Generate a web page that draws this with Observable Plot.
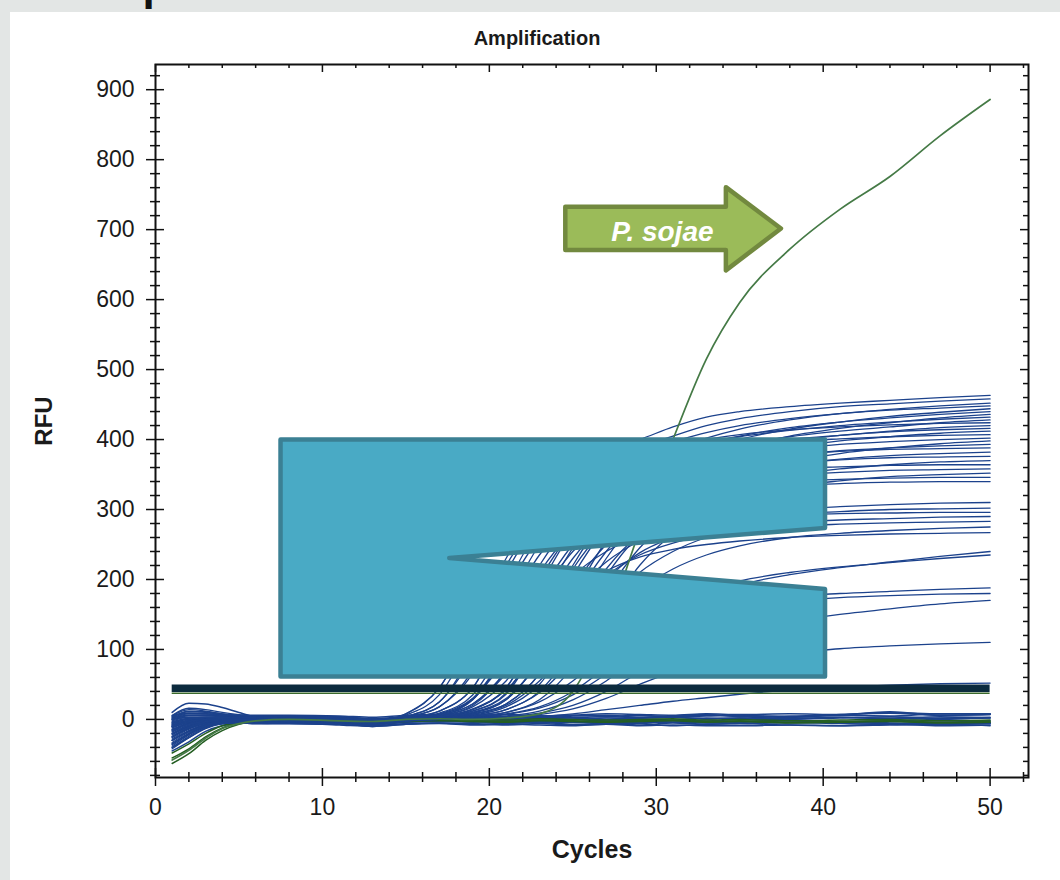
<!DOCTYPE html>
<html><head><meta charset="utf-8">
<script src="https://cdn.jsdelivr.net/npm/d3@7"></script>
<script src="https://cdn.jsdelivr.net/npm/@observablehq/plot@0.6"></script>
<style>
html,body{margin:0;padding:0;background:#e3e6e5;width:1060px;height:880px;overflow:hidden;}
#panel{position:absolute;left:10px;top:12px;right:0;bottom:0;background:#fff;}
#chart{position:absolute;left:0;top:0;}
</style></head><body>
<div id="panel"></div><div id="chart"></div>
<script>
// ---------- data ----------
const CYCLES = [1,2,3,4,5,6,8,11,13,15,17,19,21,23,25,27,29,31,33,35,38,41,44,47,50];

// amplifying wells (navy)
const AMP_CURVES = [
  [-12,-4,0,1,1,2,1, 0,-2,8,45,135,230,305,355,385,400,418,432,440,447,452,456,460,463],
  [-25,-12,-5,-3,-3,-4,-4, -5,-6,4,25,90,190,275,330,365,388,405,420,430,440,447,451,455,458],
  [5,14,12,8,5,4,3, 2,-1,1,6,28,95,190,270,325,360,385,402,415,428,437,443,448,452],
  [-35,-20,-9,-5,-4,-3,-3, -4,-6,6,35,115,210,285,335,365,383,397,410,420,430,437,442,445,448],
  [-5,0,1,1,1,1,0, -1,-3,0,4,14,45,130,220,290,335,365,385,400,415,425,433,439,444],
  [-18,-8,-3,-2,-2,-2,-2, -3,-4,2,12,45,135,220,285,330,360,380,395,405,417,425,431,436,440],
  [0,6,6,5,4,3,3, 1,-1,0,3,10,28,85,175,255,310,345,370,388,405,416,424,431,436],
  [-28,-14,-6,-4,-3,-3,-3, -4,-6,3,18,70,165,250,310,345,368,383,395,404,413,420,425,429,432],
  [-8,-2,0,1,1,1,0, -2,-4,0,5,20,70,160,245,300,338,362,380,392,404,412,418,424,428],
  [-40,-24,-11,-6,-5,-5,-5, -6,-7,8,45,130,220,290,335,360,377,390,400,407,414,418,421,423,424],
  [2,9,8,6,5,4,4, 3,0,-1,4,12,38,115,205,275,320,350,370,384,397,406,412,417,420],
  [-15,-6,-2,-1,-1,-1,-2, -3,-4,1,9,35,110,200,270,315,345,365,380,390,400,406,411,414,416],
  [-3,2,3,2,2,2,1, 0,-3,-1,2,8,22,65,150,230,290,330,355,372,388,398,404,409,412],
  [-30,-16,-7,-4,-3,-4,-4, -5,-7,4,25,95,185,260,310,340,360,373,383,390,397,401,404,406,407],
  [-10,-3,0,1,1,0,0, -1,-3,0,7,28,95,180,250,300,330,350,364,375,386,393,397,400,402],
  [6,16,14,10,7,5,5, 4,1,-1,2,6,18,50,120,205,265,305,332,350,368,380,388,394,398],
  [-22,-10,-4,-2,-2,-2,-3, -4,-5,0,4,15,45,130,215,275,315,338,355,366,377,384,388,391,393],
  [-33,-18,-8,-5,-4,-5,-5, -6,-8,2,12,45,130,210,270,310,335,350,362,370,378,383,386,387,388],
  [-6,-1,1,2,2,2,1, 0,-2,-1,3,9,28,85,170,240,290,320,340,353,365,372,377,380,382],
  [-14,-5,-1,0,0,-1,-1, -2,-4,0,6,22,70,155,230,280,312,333,347,357,366,371,374,375,376],
  [1,8,8,6,5,4,3, 2,-1,-1,2,5,14,40,100,180,245,288,315,333,348,358,364,368,370],
  [-38,-22,-10,-6,-5,-6,-6, -7,-9,3,18,65,155,235,285,315,333,343,350,355,359,361,363,364,364],
  [-4,1,2,2,2,1,1, 0,-2,-1,4,12,36,110,190,250,290,315,330,340,348,353,356,357,358],
  [-20,-9,-3,-1,-1,-1,-2, -3,-5,-1,1,4,10,28,75,150,220,265,295,315,332,341,347,350,352],
  [-26,-12,-5,-3,-3,-3,-4, -5,-6,0,7,30,95,175,240,280,305,320,330,336,341,343,345,346,346],
  [-9,-3,0,1,1,1,0, -1,-3,-1,2,8,22,65,145,215,265,295,312,324,333,337,339,340,340],
  [-16,-6,-2,-1,-1,-1,-2, -3,-4,0,5,18,55,120,180,225,255,273,285,293,300,304,307,309,310],
  [3,11,10,7,5,5,4, 3,0,-1,3,10,30,80,145,200,238,260,275,285,293,297,300,301,302],
  [-30,-16,-7,-4,-3,-3,-4, -5,-6,1,8,30,85,150,205,240,262,275,283,288,292,294,295,296,296],
  [-7,-2,0,1,1,0,0, -1,-4,-1,2,7,20,55,110,165,210,240,260,272,281,285,287,289,290],
  [-21,-9,-4,-2,-2,-2,-2, -3,-5,0,4,14,42,100,160,205,235,252,263,270,276,279,281,282,283],
  [-1,5,5,4,3,3,2, 1,-1,-1,2,5,14,38,85,140,185,215,235,248,260,266,270,273,275],
  [-36,-20,-9,-5,-4,-4,-5, -6,-7,1,6,22,65,130,180,212,232,243,250,255,260,263,265,266,267],
  [-12,-4,-1,0,0,0,-1, -2,-5,-1,1,3,8,18,40,75,115,150,175,192,207,217,225,233,240],
  [-24,-11,-4,-2,-2,-2,-3, -4,-6,-2,1,4,10,25,55,95,135,165,185,198,210,218,224,230,235],
  [4,12,11,8,6,5,4, 2,-1,-1,1,3,7,16,35,65,100,130,150,163,175,180,183,186,188],
  [-17,-7,-3,-1,-1,-1,-2, -3,-5,-1,0,2,5,12,28,55,90,120,142,156,168,174,177,179,180],
  [-42,-26,-12,-6,-5,-6,-6, -7,-8,-3,0,2,4,9,20,40,68,95,115,128,140,150,158,165,170],
  [-2,3,3,3,2,2,1, 0,-3,-1,0,1,3,7,15,30,50,68,80,88,95,101,105,108,110],
  [-10,-3,0,1,0,0,-1, -2,-5,-1,0,1,2,4,8,14,20,26,31,36,42,46,49,51,52]
];

// non-amplifying wells (navy)
const FLAT_CURVES = [
  [10,23,22,17,10,4,3,2,-1,3,4,2,1,3,2,0,2,3,1,2,4,3,1,2,3],
  [-40,-26,-13,-6,-4,-5,-6,-7,-9,-6,-5,-7,-6,-4,-7,-6,-8,-5,-7,-6,-4,-6,-7,-5,-6],
  [-20,-10,-3,0,1,2,1,-1,-3,1,2,0,3,1,0,2,1,-1,2,1,0,2,4,1,2],
  [0,3,3,2,1,5,4,3,1,4,6,5,4,2,5,6,3,4,6,5,3,7,9,6,7],
  [-30,-17,-8,-6,-5,-6,-5,-8,-10,-7,-6,-8,-7,-8,-9,-7,-9,-8,-9,-9,-8,-9,-7,-9,-8],
  [5,9,8,7,6,6,6,5,3,6,7,6,7,5,6,8,7,6,8,7,8,7,10,8,8],
  [-10,-4,-2,-2,-1,-2,-3,-5,-6,-2,-1,-3,-2,-3,-3,-1,-2,-4,-1,-3,-1,-3,-2,0,-4],
  [-45,-32,-17,-9,-6,-4,-5,-6,-10,-7,-5,-6,-8,-6,-8,-7,-6,-9,-7,-6,-8,-9,-8,-7,-9],
  [-5,1,3,4,4,3,2,1,-1,3,4,3,4,5,3,4,6,4,5,6,4,6,11,6,7],
  [-25,-13,-6,-3,-3,-3,-3,-5,-7,-4,-3,-4,-3,-5,-4,-6,-4,-4,-5,-3,-5,-4,-6,-4,-5],
  [-15,-6,-2,0,1,1,1,-1,-3,1,2,1,0,1,2,0,2,3,1,2,1,3,2,4,2],
  [-35,-21,-10,-5,-3,-2,-3,-4,-7,-4,-2,-3,-5,-4,-3,-5,-4,-2,-4,-6,-4,-3,-5,-7,-6],
  [2,6,6,5,4,3,4,2,0,3,5,3,4,5,6,4,3,5,7,4,5,6,5,8,8],
  [-8,-2,-1,-1,-1,-1,-2,-3,-5,-2,-1,-2,-3,-2,-4,-3,-4,-2,-3,-4,-2,-5,-3,-4,-2]
];

// second-dye wells (green)
const GREEN_FLAT = [
  [-63,-49,-30,-16,-7,-3,-2,-4,-6,-3,-2,-3,-4,-2,-3,-4,-3,-2,-4,-3,-5,-4,-3,-5,-4],
  [-55,-42,-25,-12,-5,-1,0,-2,-3,0,1,0,-1,1,0,-1,0,1,-1,0,-2,-1,0,-2,-1],
  [-48,-35,-20,-9,-4,-2,-1,-3,-5,-1,0,-2,-3,-1,-2,-3,-2,-1,-3,-2,-4,-3,-2,-4,-3]
];
const P_SOJAE = [-58,-44,-27,-13,-6,-2,0,-2,-3,0,1,0,2,8,40,135,270,400,515,596,672,729,776,834,886];

const THRESHOLD_MAIN = 44.5;
const THRESHOLD_GREEN = 37.5;

const X_TICKS = d3.range(0, 53, 2);
const Y_TICKS = d3.range(-80, 921, 20);
const X_LABELS = [0,10,20,30,40,50];
const Y_LABELS = [0,100,200,300,400,500,600,700,800,900];

// annotation geometry (data units)
const CALLOUT = {x0: 7.52, x1: 40.14, y0: 60.7, y1: 399.3, tipX: 17.63, tipY: 230, mouthTop: 272.9, mouthBottom: 185.7};
const ARROW = {left: 24.58, headBase: 34.2, tip: 37.5, bodyTop: 732, bodyBottom: 670, headTop: 760, headBottom: 641, tipY: 701, textX: 30.4, textY: 683};
const ARROW_LABEL = "P. sojae";

// ---------- build ----------
const toRows = (curves, prefix) => curves.flatMap((vals, k) => vals.map((v, i) => ({id: prefix + k, x: CYCLES[i], y: v})));
const ampRows = toRows(AMP_CURVES, "a");
const flatRows = toRows(FLAT_CURVES, "f");
const greenRows = toRows(GREEN_FLAT, "g");
const sojaeRows = toRows([P_SOJAE], "s");

const W = 1060, H = 880, mL = 155, mR = 32, mT = 64, mB = 103;
const XDOM = [0, 52.3], YDOM = [-83, 936];
const kx = (W - mL - mR) / (XDOM[1] - XDOM[0]);
const ky = (H - mT - mB) / (YDOM[1] - YDOM[0]);
const majX = d => d % 10 === 0, majY = d => d % 100 === 0;
const NAVY = "#1c428c";
const FONT = "'Liberation Sans', Arial, Helvetica, sans-serif";

const plot = Plot.plot({
  width: W, height: H,
  marginLeft: mL, marginRight: mR, marginTop: mT, marginBottom: mB,
  x: {domain: XDOM},
  y: {domain: YDOM},
  style: {fontFamily: FONT, background: "transparent", overflow: "visible"},
  marks: [
    Plot.line(flatRows, {x: "x", y: "y", z: "id", stroke: NAVY, strokeWidth: 1.5, curve: "monotone-x"}),
    Plot.line(greenRows, {x: "x", y: "y", z: "id", stroke: "#245e22", strokeWidth: 1.5, curve: "monotone-x"}),
    Plot.line(ampRows, {x: "x", y: "y", z: "id", stroke: NAVY, strokeWidth: 1.3, curve: "monotone-x"}),
    Plot.line(sojaeRows, {x: "x", y: "y", z: "id", stroke: "#457a46", strokeWidth: 1.7, curve: "monotone-x"}),
    Plot.ruleY([THRESHOLD_GREEN], {x1: 1, x2: 50, stroke: "#3b6a2c", strokeWidth: 1.6}),
    Plot.ruleY([THRESHOLD_MAIN], {x1: 1, x2: 50, stroke: "#0c2b3e", strokeWidth: 7.5}),
    Plot.frame({stroke: "#111", strokeWidth: 2}),
    Plot.ruleX(X_TICKS, {x: d => d, y1: d => YDOM[0] - (majX(d) ? 9 : 5) / ky, y2: d => YDOM[0] + (majX(d) ? 9 : 5) / ky, stroke: "#111", strokeWidth: 1.5}),
    Plot.ruleX(X_TICKS, {x: d => d, y1: YDOM[1], y2: d => YDOM[1] - (majX(d) ? 8 : 4) / ky, stroke: "#111", strokeWidth: 1.5}),
    Plot.ruleY(Y_TICKS, {y: d => d, x1: d => XDOM[0] - (majY(d) ? 9 : 5) / kx, x2: d => XDOM[0] + (majY(d) ? 9 : 5) / kx, stroke: "#111", strokeWidth: 1.5}),
    Plot.ruleY(Y_TICKS, {y: d => d, x1: d => XDOM[1] - (majY(d) ? 8 : 5) / kx, x2: XDOM[1], stroke: "#111", strokeWidth: 1.5}),
    Plot.axisX(X_LABELS, {anchor: "bottom", tickSize: 0, tickPadding: 21, fontSize: 23, label: null, color: "#1a1a1a"}),
    Plot.axisY(Y_LABELS, {anchor: "left", tickSize: 0, tickPadding: 21, fontSize: 23, label: null, color: "#1a1a1a"}),
    Plot.text(["Amplification"], {frameAnchor: "top", dx: -55, dy: -26, textAnchor: "middle", lineAnchor: "middle", fontSize: 20, fontWeight: "bold", fill: "#1a1a1a"}),
    Plot.text(["RFU"], {frameAnchor: "left", dx: -111, rotate: -90, textAnchor: "middle", lineAnchor: "middle", fontSize: 24, fontWeight: "bold", fill: "#1a1a1a"}),
    Plot.text(["Cycles"], {frameAnchor: "bottom", dy: 72, textAnchor: "middle", lineAnchor: "middle", fontSize: 25, fontWeight: "bold", fill: "#1a1a1a"})
  ]
});

// ---------- annotations ----------
const sx = plot.scale("x"), sy = plot.scale("y");
const pt = (x, y) => `${sx.apply(x)},${sy.apply(y)}`;
const svg = d3.select(plot);
const c = CALLOUT;
svg.append("path")
  .attr("d", `M${pt(c.x0,c.y1)}L${pt(c.x1,c.y1)}L${pt(c.x1,c.mouthTop)}L${pt(c.tipX,c.tipY)}L${pt(c.x1,c.mouthBottom)}L${pt(c.x1,c.y0)}L${pt(c.x0,c.y0)}Z`)
  .attr("fill", "#49aac5").attr("stroke", "#3b8094").attr("stroke-width", 4.5).attr("stroke-linejoin", "round");
const a = ARROW;
svg.append("path")
  .attr("d", `M${pt(a.left,a.bodyTop)}L${pt(a.headBase,a.bodyTop)}L${pt(a.headBase,a.headTop)}L${pt(a.tip,a.tipY)}L${pt(a.headBase,a.headBottom)}L${pt(a.headBase,a.bodyBottom)}L${pt(a.left,a.bodyBottom)}Z`)
  .attr("fill", "#9bbb59").attr("stroke", "#72893f").attr("stroke-width", 4.5).attr("stroke-linejoin", "round");
svg.append("text")
  .attr("x", sx.apply(a.textX)).attr("y", sy.apply(a.textY))
  .attr("text-anchor", "middle").attr("fill", "#ffffff")
  .attr("font-family", FONT).attr("font-size", 28).attr("font-weight", "bold").attr("font-style", "italic")
  .text(ARROW_LABEL);
svg.append("text")
  .attr("x", 156).attr("y", 0)
  .attr("fill", "#111").attr("font-family", FONT).attr("font-size", 44).attr("font-weight", "bold")
  .text("p");

document.getElementById("chart").appendChild(plot);
</script>
</body></html>
